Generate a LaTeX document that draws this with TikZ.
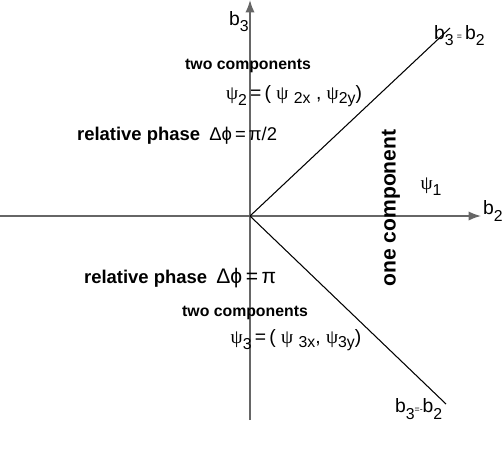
\documentclass[tikz,border=0pt]{standalone}
\usepackage{fontspec}
\setmainfont{Liberation Sans}
\newfontfamily\grk{Liberation Serif}
\usetikzlibrary{arrows.meta}

\newcommand{\gs}[1]{{\grk #1}}

\begin{document}
\begin{tikzpicture}[
    x=0.02cm, y=-0.02cm,
    >=Latex,
    font=\bfseries,
    axis/.style={draw=black!60, line width=0.9pt},
    diag/.style={draw=black, line width=0.6pt},
    lbl/.style={font=\bfseries\fontsize{9}{10}\selectfont, inner sep=1pt},
    phase/.style={font=\bfseries\fontsize{10.5}{12}\selectfont, inner sep=1pt, anchor=west},
    eqn/.style={font=\fontsize{11}{12}\selectfont, inner sep=1pt}
]
\useasboundingbox (0,0) rectangle (503,467);

% axes
\coordinate (o) at (250,216);
\coordinate (xl) at (0,216);
\coordinate (xr) at (481,216);
\coordinate (yb) at (250,420);
\coordinate (yt) at (250,0);
\draw[axis, ->] (xl) -- (xr);
\draw[axis, ->] (yb) -- (yt);
\node[eqn] (b2) at (493,211) {b\raisebox{-0.6ex}{\small 2}};
\node[eqn] (b3) at (239,22) {b\raisebox{-0.6ex}{\small 3}};

% boundary lines
\coordinate (du) at (450,28);
\coordinate (dd) at (446,404);
\draw[diag] (o) -- (du);
\draw[diag] (o) -- (dd);
\node[eqn, anchor=west] (lu) at (432,36) {b\raisebox{-0.6ex}{\small 3}\,{\tiny =}\,b\raisebox{-0.6ex}{\small 2}};
\node[eqn, anchor=west] (ld) at (393,409) {b\raisebox{-0.6ex}{\small 3}{\tiny =-}b\raisebox{-0.6ex}{\small 2}};

% upper region
\node[lbl] (tc2) at (248,66) {two components};
\node[eqn] (psi2) at (294,96) {\gs{ψ}\raisebox{-0.6ex}{\small 2}\,=\,( \gs{ψ} \raisebox{-0.4ex}{\small 2x} , \gs{ψ}\raisebox{-0.4ex}{\small 2y})};
\node[phase] (ph2) at (75,136) {relative phase\enspace\gs{\normalfont\fontsize{10.5}{12}\selectfont Δϕ\,=\,π/2}};

% right region
\node[lbl, rotate=90, font=\bfseries\fontsize{12}{14}\selectfont] (oc) at (391,208) {one component};
\node[eqn] (psi1) at (431,187) {\gs{ψ}\raisebox{-0.6ex}{\small 1}};

% lower region
\node[phase] (ph3) at (82,278) {relative phase\enspace\gs{\normalfont\fontsize{12}{13}\selectfont Δϕ\,=\,π}};
\node[lbl] (tc3) at (245,313) {two components};
\node[eqn] (psi3) at (296,340) {\gs{ψ}\raisebox{-0.6ex}{\small 3}\,=\,( \gs{ψ} \raisebox{-0.4ex}{\small 3x}, \gs{ψ}\raisebox{-0.4ex}{\small 3y})};

\end{tikzpicture}
\end{document}
